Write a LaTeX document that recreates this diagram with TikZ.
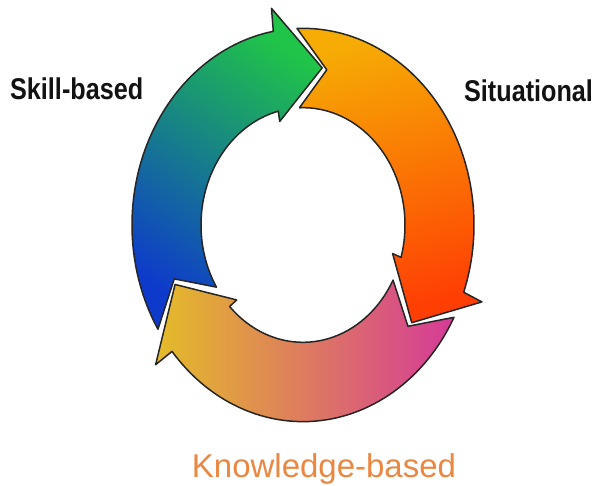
\documentclass[tikz,border=0pt]{standalone}
\usepackage{fontspec}
\setmainfont{Liberation Sans}
\usepackage{tikz}
\usepackage{xcolor}

\definecolor{skillgreen}{RGB}{32,196,72}
\definecolor{skillteal}{RGB}{24,126,124}
\definecolor{skillblue}{RGB}{14,58,204}
\definecolor{sitamber}{RGB}{246,172,4}
\definecolor{sitorange}{RGB}{250,118,6}
\definecolor{sitred}{RGB}{255,62,4}
\definecolor{knowyellow}{RGB}{228,188,40}
\definecolor{knowsalmon}{RGB}{226,128,96}
\definecolor{knowpink}{RGB}{214,58,152}
\definecolor{knowtext}{RGB}{234,136,66}

\newcommand{\cyclearrow}[2]{%
  \shadedraw[#2] (#1:171pt) arc[start angle=#1, end angle=#1-112, radius=171pt]
      -- (#1-112.5:191pt) -- (#1-130:138pt) -- (#1-107.5:93pt) -- (#1-108:102pt)
      arc[start angle=#1-108, end angle=#1, radius=102pt]
      -- (#1-12:137pt) -- cycle;}

\begin{document}
\begin{tikzpicture}[x=1pt,y=1pt,
    arrowpart/.style={draw=black!85,line width=1.5pt,line join=round},
    stagelabel/.style={font=\fontsize{30}{30}\selectfont\bfseries,text=black!93,xscale=0.84,inner sep=0pt,anchor=base west}]
  \useasboundingbox[fill=white] (0,0) rectangle (598,486);
  \begin{scope}[shift={(303pt,261pt)},yscale=1.15]
    \cyclearrow{212}{arrowpart,top color=skillgreen,middle color=skillteal,bottom color=skillblue,shading angle=-35}
    \cyclearrow{92}{arrowpart,top color=sitamber,middle color=sitorange,bottom color=sitred,shading angle=15}
    \cyclearrow{-28}{arrowpart,left color=knowyellow,middle color=knowsalmon,right color=knowpink}
  \end{scope}
  \node[stagelabel] (skill) at (10,386) {Skill-based};
  \node[stagelabel] (situational) at (464,384) {Situational};
  \node[font=\fontsize{33}{33}\selectfont,text=knowtext,inner sep=0pt,anchor=base] (knowledge) at (324,8) {Knowledge-based};
\end{tikzpicture}
\end{document}
